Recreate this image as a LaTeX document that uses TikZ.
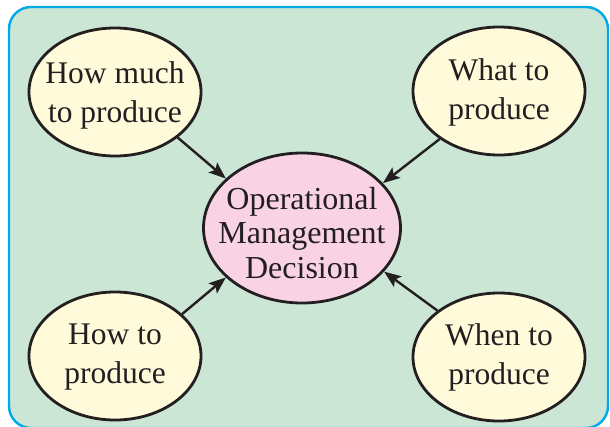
\documentclass[tikz,border=0pt]{standalone}
\usepackage{fontspec}
\setmainfont{Liberation Serif}
\usetikzlibrary{shapes.geometric,arrows.meta}
\definecolor{bgGreen}{RGB}{203,230,213}
\definecolor{frameBlue}{RGB}{0,170,232}
\definecolor{ellYellow}{RGB}{255,250,218}
\definecolor{ellPink}{RGB}{249,210,228}
\definecolor{inkDark}{RGB}{35,31,32}
\tikzset{
  outerell/.style={ellipse, draw=inkDark, line width=2.8pt, fill=ellYellow,
    minimum width=172pt, minimum height=128pt, inner sep=0pt},
  centerell/.style={ellipse, draw=inkDark, line width=2.8pt, fill=ellPink,
    minimum width=197pt, minimum height=150pt, inner sep=0pt},
  outertxt/.style={align=center, inner sep=0pt, text=inkDark,
    font=\fontsize{31.5}{39}\selectfont},
  centertxt/.style={align=center, inner sep=0pt, text=inkDark,
    font=\fontsize{32}{34.5}\selectfont},
  conn/.style={line width=2.4pt, draw=inkDark,
    -{Stealth[length=17pt,width=13pt,inset=3.5pt]}},
}
\begin{document}
\begin{tikzpicture}[x=1pt,y=-1pt]
\useasboundingbox (0,0) rectangle (610,426);
\clip (0,0) rectangle (610,426);
\draw[rounded corners=22pt, fill=bgGreen, draw=frameBlue, line width=2.4pt]
  (9,7) rectangle (608,428);
\node[centerell] (c) at (302,228) {};
\node[centertxt] (ct) at (302,233) {Operational\\Management\\Decision};
\node[outerell] (hm) at (115,92) {};
\node[outertxt] (hmt) at (115,95) {How much\\to produce};
\node[outerell] (wt) at (499,91) {};
\node[outertxt] (wtt) at (499,92) {What to\\produce};
\node[outerell] (ht) at (115,356) {};
\node[outertxt] (htt) at (115,357) {How to\\produce};
\node[outerell] (wn) at (499,357) {};
\node[outertxt] (wnt) at (499,357) {When to\\produce};
\draw[conn] (hm.-36) -- (c.147);
\draw[conn] (wt.-141) -- (c.29);
\draw[conn] (ht.32) -- (c.-147);
\draw[conn] (wn.143) -- (c.-28);
\end{tikzpicture}
\end{document}
